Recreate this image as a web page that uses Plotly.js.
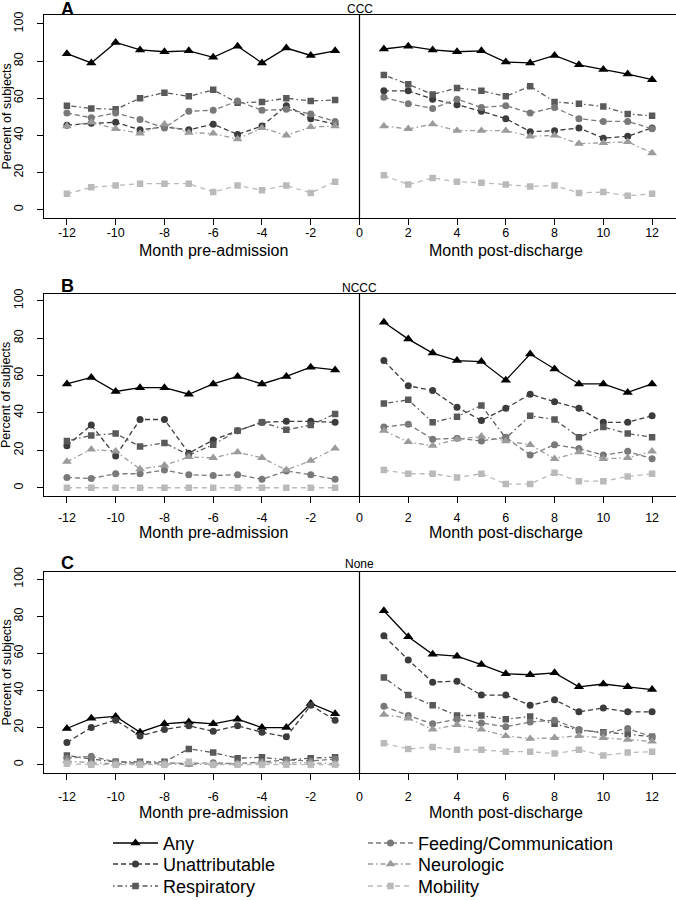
<!DOCTYPE html>
<html>
<head>
<meta charset="utf-8">
<script src="https://cdn.plot.ly/plotly-3.0.1.min.js"></script>
<style>html,body{margin:0;padding:0;background:#fff;}#chart{width:676px;height:900px;}</style>
</head>
<body>
<div id="chart"></div>
<script>
// ---- Data (percent of subjects) ----
const monthsPre = [-12, -11, -10, -9, -8, -7, -6, -5, -4, -3, -2, -1];
const monthsPost = [1, 2, 3, 4, 5, 6, 7, 8, 9, 10, 11, 12];
const seriesNames = ["Any", "Unattributable", "Respiratory", "Feeding/Communication", "Neurologic", "Mobility"];
const panelNames = ["CCC", "NCCC", "None"];
const panelLetters = ["A", "B", "C"];
const xTickVals = [-12, -10, -8, -6, -4, -2, 0, 2, 4, 6, 8, 10, 12];
const yTickVals = [0, 20, 40, 60, 80, 100];

// Panel A: CCC
const cccAnyPre = [84, 79, 90, 86, 85, 85.5, 82, 88, 79, 87, 83, 85.5];
const cccAnyPost = [86.5, 88, 86, 85, 85.5, 79.5, 79, 83, 78, 75.5, 73, 70];
const cccUnattrPre = [45.5, 46.5, 47, 43, 44.5, 43, 46, 40.5, 45, 56, 49, 46];
const cccUnattrPost = [64, 64, 59.5, 56.5, 53, 49, 42, 42.5, 44, 38.5, 39.5, 44];
const cccRespPre = [56, 54.5, 54, 60, 63, 61, 64.5, 57.5, 58, 60, 58.5, 59];
const cccRespPost = [72.5, 67.5, 62, 65.5, 64, 61, 66.5, 58, 57, 55.5, 51.5, 50.5];
const cccFeedPre = [52, 49.5, 52, 48.5, 44, 53, 53.5, 58.5, 53.5, 54, 51.5, 47.5];
const cccFeedPost = [60.5, 57, 54.5, 59.5, 55, 56, 52, 55, 49, 47.5, 47.5, 43.5];
const cccNeuroPre = [45, 47, 43.5, 41, 46, 41.5, 41, 38, 44, 40, 44.5, 45];
const cccNeuroPost = [45, 43.5, 46, 42.5, 42.5, 42.5, 39.5, 40, 35.5, 36, 36.5, 30.5];
const cccMobPre = [8.5, 12, 13, 14, 14, 14, 9.5, 13, 10.5, 13, 9, 15];
const cccMobPost = [18.5, 13.5, 17, 15, 14.5, 13.5, 12.5, 13, 9, 9.5, 7.5, 8.5];

// Panel B: NCCC
const ncccAnyPre = [55.5, 59, 51.5, 53.5, 53.5, 50, 55.5, 59.5, 55.5, 59.5, 64.5, 63];
const ncccAnyPost = [88.5, 79.5, 72, 68, 67.5, 57.5, 71.5, 63.5, 55.5, 55.5, 51, 55.5];
const ncccUnattrPre = [22.5, 33.5, 17, 36.5, 36.5, 18.5, 25.5, 30.5, 35, 35.5, 35.5, 35];
const ncccUnattrPost = [68, 54.5, 52, 43, 36, 42.5, 50, 46, 42.5, 35, 35, 38.5];
const ncccRespPre = [25, 28, 29, 22, 24, 17.5, 23, 30.5, 35, 31, 33.5, 39.5];
const ncccRespPost = [45, 47, 35, 38, 44, 26.5, 38.5, 36.5, 27, 32.5, 29, 27];
const ncccFeedPre = [5.5, 5, 7.5, 7.5, 9.5, 7, 6.5, 7, 4.5, 9, 7, 4.5];
const ncccFeedPost = [32.5, 34, 26, 26.5, 25, 27, 17.5, 23, 21, 17.5, 19.5, 15.5];
const ncccNeuroPre = [14, 20.5, 19.5, 10, 12, 16.5, 16, 19, 16, 9.5, 14.5, 21];
const ncccNeuroPost = [30.5, 24.5, 22.5, 26, 27.5, 25, 23, 15.5, 19, 15.5, 16, 19.5];
const ncccMobPre = [0, 0, 0, 0, 0, 0, 0, 0, 0, 0, 0, 0];
const ncccMobPost = [9.5, 7.5, 7.5, 5.5, 7.5, 2, 2, 8, 3.5, 3.5, 6, 7.5];

// Panel C: None
const noneAnyPre = [19.5, 25, 26, 17.5, 22, 23, 22, 24.5, 20, 20, 33, 27.5];
const noneAnyPost = [83, 69, 59.5, 58.5, 54, 49, 48.5, 49.5, 42, 43.5, 42, 40.5];
const noneUnattrPre = [12, 20, 24, 15.5, 19, 21, 18, 21, 17.5, 15, 32, 24];
const noneUnattrPost = [69.5, 56.5, 44.5, 45, 37.5, 37.5, 32, 35, 28.5, 30.5, 28.5, 28.5];
const noneRespPre = [5, 3, 1.5, 1.5, 1.5, 8.5, 6.5, 3.5, 4, 2.5, 3.5, 4];
const noneRespPost = [47, 37.5, 32, 26.5, 26.5, 24.5, 26, 22, 18.5, 17.5, 16.5, 15];
const noneFeedPre = [3.5, 4.5, 1.5, 1, 1, 0.5, 1, 0.5, 1.5, 2.5, 2, 3];
const noneFeedPost = [31.5, 26.5, 22, 24.5, 22.5, 20.5, 23, 24, 19, 17, 19.5, 15];
const noneNeuroPre = [2, 1, 0.5, 0.5, 0.5, 0, 0.5, 0.5, 1, 1, 1, 0.5];
const noneNeuroPost = [27, 25, 19, 21.5, 19, 15.5, 14, 14.5, 15.5, 14.5, 13.5, 12.5];
const noneMobPre = [0.5, 0, 0, 0, 0, 1.5, 0, 0, 0, 0, 0, 0];
const noneMobPost = [11.5, 8.5, 9.5, 8, 8, 7, 7, 6, 8, 5, 6.5, 7];

const panelData = [
  [[cccAnyPre, cccAnyPost], [cccUnattrPre, cccUnattrPost], [cccRespPre, cccRespPost], [cccFeedPre, cccFeedPost], [cccNeuroPre, cccNeuroPost], [cccMobPre, cccMobPost]],
  [[ncccAnyPre, ncccAnyPost], [ncccUnattrPre, ncccUnattrPost], [ncccRespPre, ncccRespPost], [ncccFeedPre, ncccFeedPost], [ncccNeuroPre, ncccNeuroPost], [ncccMobPre, ncccMobPost]],
  [[noneAnyPre, noneAnyPost], [noneUnattrPre, noneUnattrPost], [noneRespPre, noneRespPost], [noneFeedPre, noneFeedPost], [noneNeuroPre, noneNeuroPost], [noneMobPre, noneMobPost]]
];

// ---- Styles ----
const styles = [
  {color: "#000000", dash: "solid", symbol: "triangle-up", size: 9},
  {color: "#3c3c3c", dash: "5px,3px", symbol: "circle", size: 7},
  {color: "#595959", dash: "1.5px,3px,5px,3px", symbol: "square", size: 6.5},
  {color: "#797979", dash: "5px,3px", symbol: "circle", size: 7},
  {color: "#9b9b9b", dash: "5px,3px,1.5px,3px", symbol: "triangle-up", size: 8.5},
  {color: "#bababa", dash: "5px,4px", symbol: "square", size: 6.5}
];

const W = 676, H = 900;
const FONT = "Liberation Sans, Arial, Helvetica, sans-serif";
const px = v => v / W;
const py = v => 1 - v / H;

// panel geometry (pixels)
const boxes = [
  {top: 15, bottom: 218, yr: [-4.5, 104.8], tickStand: -3, tickTitle: 250, lab: 9, name: 9},
  {top: 294, bottom: 496, yr: [-4.4, 103.6], tickStand: 4, tickTitle: 532, lab: 285.5, name: 288},
  {top: 572, bottom: 773, yr: [-4.5, 103.9], tickStand: 6, tickTitle: 812, lab: 562.5, name: 564}
];

const traces = [];
const legendKeys = ["legend", "legend2", "legend3", "legend4", "legend5", "legend6"];
panelData.forEach((series, p) => {
  series.forEach((pair, s) => {
    const st = styles[s];
    traces.push({
      type: "scatter",
      mode: "lines+markers",
      name: seriesNames[s],
      x: monthsPre.concat([0], monthsPost),
      y: pair[0].concat([null], pair[1]),
      xaxis: p === 0 ? "x" : "x" + (p + 1),
      yaxis: p === 0 ? "y" : "y" + (p + 1),
      line: {color: st.color, width: 1.3, dash: st.dash},
      marker: {color: st.color, symbol: st.symbol, size: st.size, line: {width: 0}},
      connectgaps: false,
      showlegend: p === 0,
      legend: legendKeys[s],
      hoverinfo: "x+y+name"
    });
  });
});

const layout = {
  width: W, height: H,
  margin: {l: 0, r: 0, t: 0, b: 0, autoexpand: false},
  paper_bgcolor: "#fff", plot_bgcolor: "#fff",
  font: {family: FONT, color: "#000", size: 12.5},
  shapes: [],
  annotations: []
};

boxes.forEach((b, p) => {
  const xk = p === 0 ? "xaxis" : "xaxis" + (p + 1);
  const yk = p === 0 ? "yaxis" : "yaxis" + (p + 1);
  const xr = p === 0 ? "x" : "x" + (p + 1);
  const yr = p === 0 ? "y" : "y" + (p + 1);
  layout[xk] = {
    domain: [px(43.5), px(675.5)], range: [-12.96, 12.96], anchor: yr,
    tickmode: "array", tickvals: xTickVals, ticktext: xTickVals.map(String),
    ticks: "outside", ticklen: 6, tickwidth: 1, tickcolor: "#000",
    ticklabelstandoff: b.tickStand,
    showline: true, mirror: true, linecolor: "#000", linewidth: 1,
    showgrid: false, zeroline: false, fixedrange: true,
    tickfont: {family: FONT, size: 12.5, color: "#000"}
  };
  layout[yk] = {
    domain: [py(b.bottom), py(b.top)], range: b.yr, anchor: xr,
    tickmode: "array", tickvals: yTickVals, ticktext: yTickVals.map(String),
    tickangle: -90,
    ticks: "outside", ticklen: 6, tickwidth: 1, tickcolor: "#000",
    ticklabelstandoff: 9,
    showline: true, mirror: true, linecolor: "#000", linewidth: 1,
    showgrid: false, zeroline: false, fixedrange: true,
    tickfont: {family: FONT, size: 12.5, color: "#000"}
  };
  // vertical separator at month 0
  layout.shapes.push({type: "line", xref: xr, yref: yr + " domain", x0: 0, x1: 0, y0: 0, y1: 1,
    line: {color: "#000", width: 1.2}});
  // x titles
  layout.annotations.push({text: "Month pre-admission", xref: xr, x: -6, yref: "paper", y: py(b.tickTitle),
    xanchor: "center", yanchor: "middle", showarrow: false, font: {family: FONT, size: 16, color: "#000"}});
  layout.annotations.push({text: "Month post-discharge", xref: xr, x: 6, yref: "paper", y: py(b.tickTitle),
    xanchor: "center", yanchor: "middle", showarrow: false, font: {family: FONT, size: 16, color: "#000"}});
  // y title
  layout.annotations.push({text: "Percent of subjects", xref: "paper", x: px(6), yref: "paper", y: py((b.top + b.bottom) / 2),
    textangle: -90, xanchor: "center", yanchor: "middle", showarrow: false, font: {family: FONT, size: 12.5, color: "#000"}});
  // panel letter
  layout.annotations.push({text: "<b>" + panelLetters[p] + "</b>", xref: "paper", x: px(59), yref: "paper", y: py(b.lab),
    xanchor: "left", yanchor: "middle", showarrow: false, font: {family: FONT, size: 18, color: "#000"}});
  // group name
  layout.annotations.push({text: panelNames[p], xref: xr, x: 0, yref: "paper", y: py(b.name),
    xanchor: "center", yanchor: "middle", showarrow: false, font: {family: FONT, size: 12, color: "#000"}});
});

// legends: one per series, laid out in two columns of three rows
const legendCols = [108, 363];
const legendTops = [824.8, 845.8, 867.8];
legendKeys.forEach((k, i) => {
  const col = Math.floor(i / 3), row = i % 3;
  layout[k] = {
    x: px(legendCols[col]), y: py(legendTops[row]), xref: "paper", yref: "paper",
    xanchor: "left", yanchor: "top", orientation: "v",
    bgcolor: "rgba(0,0,0,0)", borderwidth: 0, itemwidth: 45,
    font: {family: FONT, size: 18, color: "#000"}
  };
});

Plotly.newPlot("chart", traces, layout, {staticPlot: true, displayModeBar: false});
</script>
</body>
</html>
